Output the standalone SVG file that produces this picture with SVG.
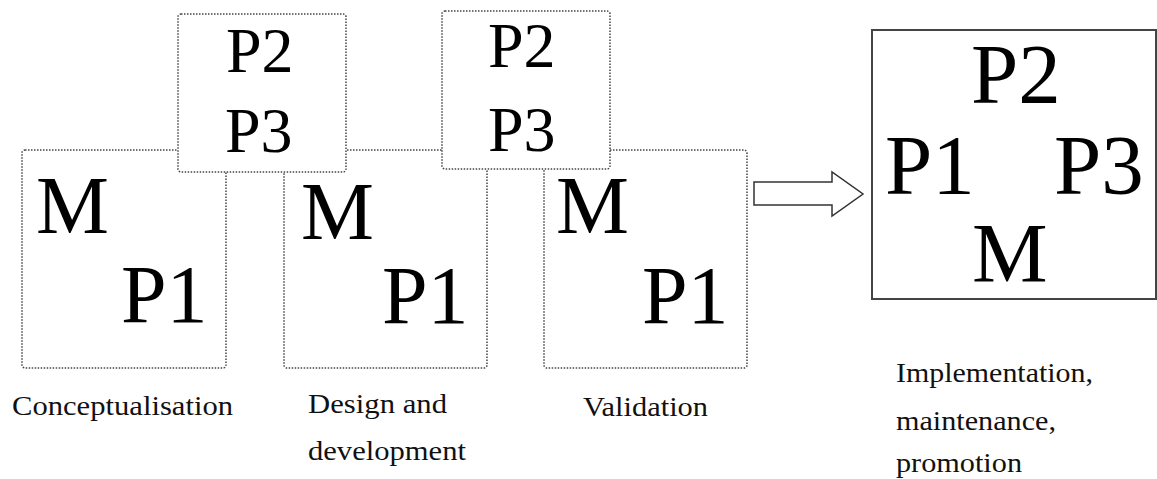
<svg xmlns="http://www.w3.org/2000/svg" width="1157" height="479" viewBox="0 0 1157 479">
<style>
.dot{fill:#fff;stroke:#444;stroke-width:1.5;stroke-dasharray:1.5 1.5}
.solid{fill:#fff;stroke:#444;stroke-width:2}
.ser{font-family:"Liberation Serif","Times New Roman",serif}
.big{font-size:82px;fill:#000}
.fin{font-size:85px;fill:#000}
.mid{font-size:64px;fill:#000}
.lab{font-size:27px;fill:#111}
</style>
<rect width="1157" height="479" fill="#fff"/>
<g class="ser">
<g id="phase1">
<rect class="dot" x="22" y="150" width="204" height="218" rx="3"/>
<text class="big" x="36" y="233">M</text>
<text class="big" x="121" y="322">P1</text>
</g>
<g id="phase2">
<rect class="dot" x="284" y="150" width="203" height="218" rx="3"/>
<text class="big" x="301" y="239">M</text>
<text class="big" x="382" y="323">P1</text>
</g>
<g id="phase3">
<rect class="dot" x="544" y="150" width="203" height="218" rx="3"/>
<text class="big" x="556" y="233">M</text>
<text class="big" x="642" y="323">P1</text>
</g>
<g id="top1">
<rect class="dot" x="178" y="14" width="168" height="158" rx="3"/>
<text class="mid" x="226" y="72">P2</text>
<text class="mid" x="225" y="152">P3</text>
</g>
<g id="top2">
<rect class="dot" x="442" y="11" width="168" height="158" rx="3"/>
<text class="mid" x="488" y="67">P2</text>
<text class="mid" x="488" y="151">P3</text>
</g>
<g id="final">
<rect class="solid" x="872" y="30" width="284" height="269"/>
<text class="fin" x="971" y="103">P2</text>
<text class="fin" x="885" y="194">P1</text>
<text class="fin" x="1054" y="194">P3</text>
<text class="fin" x="972" y="282">M</text>
</g>
<g id="connectors">
<path d="M754,182 H832 V172 L863,194 L832,216 V205 H754 Z" fill="#fff" stroke="#333" stroke-width="1.5" stroke-linejoin="miter"/>
</g>
<g id="labels">
<text class="lab" x="12" y="415" textLength="221" lengthAdjust="spacingAndGlyphs">Conceptualisation</text>
<text class="lab" x="308" y="413" textLength="139" lengthAdjust="spacingAndGlyphs">Design and</text>
<text class="lab" x="308" y="460" textLength="158" lengthAdjust="spacingAndGlyphs">development</text>
<text class="lab" x="583" y="416" textLength="125" lengthAdjust="spacingAndGlyphs">Validation</text>
<text class="lab" x="896" y="382" textLength="197" lengthAdjust="spacingAndGlyphs">Implementation,</text>
<text class="lab" x="896" y="430" textLength="160" lengthAdjust="spacingAndGlyphs">maintenance,</text>
<text class="lab" x="896" y="472" textLength="126" lengthAdjust="spacingAndGlyphs">promotion</text>
</g>
</g>
</svg>
